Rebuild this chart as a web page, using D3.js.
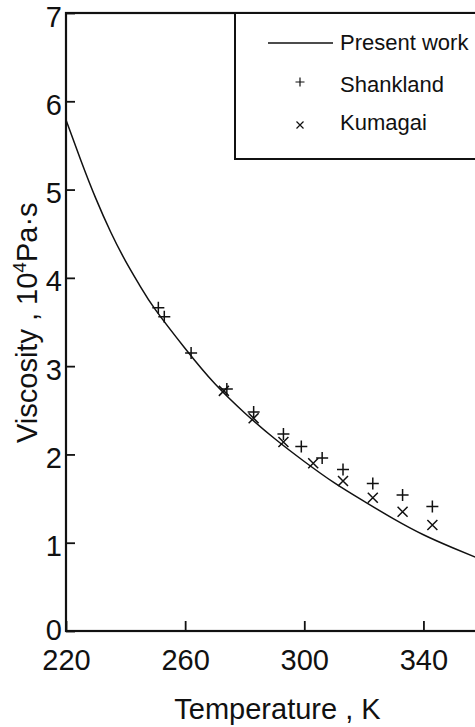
<!DOCTYPE html>
<html>
<head>
<meta charset="utf-8">
<script src="https://cdn.jsdelivr.net/npm/d3@7"></script>
<style>
  body { margin: 0; background: #fff; }
  svg { display: block; overflow: hidden; }
  text { font-family: "Liberation Sans", Arial, Helvetica, sans-serif; fill: #111; }
</style>
</head>
<body>
<div id="chart"></div>
<script>
// Present work curve
var curveTemp = [220, 225, 230, 235, 240, 245, 250, 260, 270, 280, 290, 300, 310, 320, 330, 340, 350, 360];
var curveVisc = [5.79, 5.33, 4.90, 4.52, 4.19, 3.90, 3.64, 3.20, 2.80, 2.47, 2.18, 1.92, 1.68, 1.47, 1.27, 1.09, 0.94, 0.80];

// Shankland (+)
var shankTemp = [251, 253, 262, 274, 283, 293, 299, 306, 313, 323, 333, 343];
var shankVisc = [3.66, 3.56, 3.15, 2.74, 2.48, 2.23, 2.09, 1.96, 1.83, 1.67, 1.54, 1.41];

// Kumagai (x)
var kumaTemp = [273, 283, 293, 303, 313, 323, 333, 343];
var kumaVisc = [2.72, 2.41, 2.14, 1.90, 1.70, 1.51, 1.35, 1.20];

var xTicks = [220, 260, 300, 340];
var yTicks = [0, 1, 2, 3, 4, 5, 6, 7];

var legendNames = ["Present work", "Shankland", "Kumagai"];

var margin = {top: 13, left: 66},
    width = 417,
    height = 618;

var svg = d3.select("#chart")
  .append("svg")
  .attr("width", 475)
  .attr("height", 727)
  .append("g")
  .attr("transform", "translate(" + margin.left + "," + margin.top + ")");

var x = d3.scaleLinear().domain([220, 360]).range([0, width]);
var y = d3.scaleLinear().domain([0, 7]).range([height, 0]);

// frame
svg.append("rect")
  .attr("x", 0).attr("y", 0)
  .attr("width", width).attr("height", height)
  .attr("fill", "none")
  .attr("stroke", "#111")
  .attr("stroke-width", 2.2);

// X axis, ticks pointing inward
svg.append("g")
  .attr("transform", "translate(0," + height + ")")
  .call(d3.axisBottom(x)
    .tickValues(xTicks)
    .tickSizeInner(-10)
    .tickSizeOuter(0)
    .tickPadding(18)
    .tickFormat(d3.format("d")))
  .call(g => g.select(".domain").remove())
  .call(g => g.selectAll(".tick line").attr("stroke", "#111").attr("stroke-width", 1.8))
  .call(g => g.selectAll(".tick text")
    .style("font-size", "29px")
    .attr("fill", "#111"));

// Y axis
svg.append("g")
  .call(d3.axisLeft(y)
    .tickValues(yTicks)
    .tickSizeInner(-9)
    .tickSizeOuter(0)
    .tickPadding(4)
    .tickFormat(d3.format("d")))
  .call(g => g.select(".domain").remove())
  .call(g => g.selectAll(".tick line").attr("stroke", "#111").attr("stroke-width", 1.8))
  .call(g => g.selectAll(".tick text")
    .style("font-size", "29px")
    .attr("dy", d => d === 0 ? "0.3em" : "0.45em")
    .attr("fill", "#111"));

// axis titles
svg.append("text")
  .attr("x", x(291))
  .attr("y", 706)
  .attr("text-anchor", "middle")
  .style("font-size", "29px")
  .text("Temperature , K");

var yTitle = svg.append("text")
  .attr("transform", "translate(" + (37 - margin.left) + "," + (443 - margin.top) + ") rotate(-90)")
  .style("font-size", "29px");
yTitle.append("tspan").text("Viscosity , 10");
yTitle.append("tspan").attr("dy", -11).style("font-size", "19px").text("4");
yTitle.append("tspan").attr("dy", 11).text("Pa\u00b7s");

// curve
var curveData = curveTemp.map((t, i) => ({t: t, v: curveVisc[i]}));
svg.append("path")
  .datum(curveData)
  .attr("fill", "none")
  .attr("stroke", "#111")
  .attr("stroke-width", 1.5)
  .attr("d", d3.line()
    .curve(d3.curveNatural)
    .x(d => x(d.t))
    .y(d => y(d.v)));

var plusPath = "M-6,0H6M0,-6V6";
var timesPath = "M-5,-5L5,5M-5,5L5,-5";

svg.selectAll(".shank")
  .data(shankTemp.map((t, i) => ({t: t, v: shankVisc[i]})))
  .enter()
  .append("path")
    .attr("class", "shank")
    .attr("transform", d => "translate(" + x(d.t) + "," + y(d.v) + ")")
    .attr("d", plusPath)
    .attr("stroke", "#111")
    .attr("stroke-width", 1.5);

svg.selectAll(".kuma")
  .data(kumaTemp.map((t, i) => ({t: t, v: kumaVisc[i]})))
  .enter()
  .append("path")
    .attr("class", "kuma")
    .attr("transform", d => "translate(" + x(d.t) + "," + y(d.v) + ")")
    .attr("d", timesPath)
    .attr("stroke", "#111")
    .attr("stroke-width", 1.5);

// legend
var legend = svg.append("g")
  .attr("transform", "translate(" + (235 - margin.left) + ",0)");

legend.append("rect")
  .attr("x", 0).attr("y", 0)
  .attr("width", 260).attr("height", 146)
  .attr("fill", "#fff")
  .attr("stroke", "#111")
  .attr("stroke-width", 2);

legend.append("line")
  .attr("x1", 33).attr("x2", 98)
  .attr("y1", 30).attr("y2", 30)
  .attr("stroke", "#111")
  .attr("stroke-width", 1.3);

legend.append("path")
  .attr("transform", "translate(65,69)")
  .attr("d", "M-4.5,0H4.5M0,-4.5V4.5")
  .attr("stroke", "#111")
  .attr("stroke-width", 1.2);

legend.append("path")
  .attr("transform", "translate(65,112)")
  .attr("d", "M-3.5,-3.5L3.5,3.5M-3.5,3.5L3.5,-3.5")
  .attr("stroke", "#111")
  .attr("stroke-width", 1.2);

legend.selectAll(".lab")
  .data(legendNames)
  .enter()
  .append("text")
    .attr("class", "lab")
    .attr("x", 105)
    .attr("y", (d, i) => [37, 79, 117][i])
    .style("font-size", "22px")
    .text(d => d);
</script>
</body>
</html>
